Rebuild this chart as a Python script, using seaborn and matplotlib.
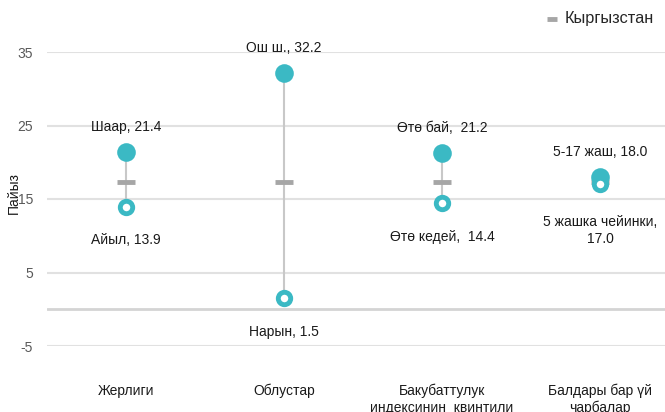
import pandas as pd
import seaborn as sns
import matplotlib.pyplot as plt
import numpy as np

# Data
categories = ['Жерлиги', 'Облустар', 'Бакубаттулук\nиндексинин  квинтили', 'Балдары бар үй\nчарбалар']
high_values = [21.4, 32.2, 21.2, 18.0]
low_values = [13.9, 1.5, 14.4, 17.0]
high_labels = ['Шаар, 21.4', 'Ош ш., 32.2', 'Өтө бай,  21.2', '5-17 жаш, 18.0']
low_labels = ['Айыл, 13.9', 'Нарын, 1.5', 'Өтө кедей,  14.4', '5 жашка чейинки,\n17.0']
national = [17.3, 17.3, 17.3, 17.3]
yticks = [-5, 5, 15, 25, 35]

teal = '#3BB9C4'
grey = '#A6A6A6'

sns.set_style('white')
plt.rcParams['font.family'] = ['Liberation Sans', 'DejaVu Sans']
plt.rcParams['axes.unicode_minus'] = False

df = pd.DataFrame({'cat': categories, 'high': high_values, 'low': low_values, 'kg': national})
x = np.arange(len(categories))

fig = plt.figure(figsize=(6.65, 4.12), dpi=100)
ax = fig.add_axes([47 / 665, 1 - 346 / 412, 632 / 665, 294 / 412])

# gridlines and zero axis
for t in yticks:
    ax.axhline(t, color='#E1E1E1', lw=1.5, zorder=0)
ax.axhline(0, color='#D4D4D4', lw=2, zorder=0)

# high-low lines
ax.vlines(x, df['low'], df['high'], color='#C8C8C8', lw=1.5, zorder=1)

# national value
sns.scatterplot(data=df, x=x, y='kg', marker='_', s=160, linewidth=3.5,
                color=grey, ax=ax, zorder=2, label='Кыргызстан')
# high (filled) and low (hollow) points
sns.scatterplot(data=df, x=x, y='high', s=180, color=teal, edgecolor=teal,
                linewidth=0, ax=ax, zorder=3, legend=False)
sns.scatterplot(data=df, x=x, y='low', s=80, facecolor='white', edgecolor=teal,
                linewidth=3.5, ax=ax, zorder=4, legend=False)

for i in range(len(categories)):
    ax.annotate(high_labels[i], (x[i], high_values[i]), xytext=(0, 13),
                textcoords='offset points', ha='center', va='bottom', fontsize=10, color='#1a1a1a')
    off = -22 if '\n' in low_labels[i] else -19
    ax.annotate(low_labels[i], (x[i], low_values[i]), xytext=(0, off),
                textcoords='offset points', ha='center', va='top', fontsize=10, color='#1a1a1a',
                linespacing=1.25)

ax.set_xlim(-0.5, 3.5)
ax.set_ylim(-5, 35)
ax.set_yticks(yticks)
ax.set_xticks(x)
ax.set_xticklabels(categories, fontsize=10, color='#1a1a1a', linespacing=1.25)
ax.tick_params(axis='x', length=0, pad=27)
ax.tick_params(axis='y', length=0, pad=10, labelsize=10, labelcolor='#595959')
ax.set_xlabel('')
ax.set_ylabel('')
for s in ax.spines.values():
    s.set_visible(False)

fig.text(14 / 665, 1 - 193 / 412, 'Пайыз', rotation=90, ha='center', va='center', fontsize=10, color='#1a1a1a')

ax.legend(loc='center right', bbox_to_anchor=(669 / 665, 1 - 19 / 412), bbox_transform=fig.transFigure,
          frameon=False, fontsize=11.8, handlelength=0.45, handletextpad=0.55, markerscale=0.6)

fig.savefig('out.png', dpi=100)
